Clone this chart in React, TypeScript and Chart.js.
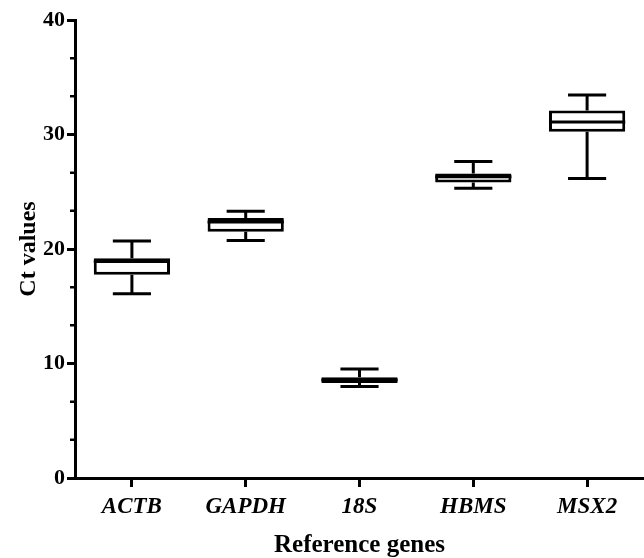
import React, { useEffect, useRef } from "react";
import { Chart, registerables } from "chart.js";

Chart.register(...registerables);

const genes = ["ACTB", "GAPDH", "18S", "HBMS", "MSX2"];
const mins = [16.1, 20.75, 8.0, 25.3, 26.15];
const q1s = [17.75, 21.5, 8.3, 25.8, 30.25];
const medians = [18.9, 22.35, 8.55, 26.3, 31.1];
const q3s = [19.2, 22.7, 8.8, 26.6, 32.1];
const maxs = [20.7, 23.3, 9.53, 27.65, 33.45];
const yMajorTicks = [0, 10, 20, 30, 40];
const yMinorTicks = [3.333, 6.667, 13.333, 16.667, 23.333, 26.667, 33.333, 36.667];

const FONT = "'Liberation Serif', 'Times New Roman', serif";

const boxPlugin = {
  id: "boxWhiskers",
  afterDatasetsDraw(chart: any) {
    const { ctx, scales } = chart;
    const x = scales.x;
    const y = scales.y;
    const meta = chart.getDatasetMeta(0);
    ctx.save();
    ctx.strokeStyle = "#000";
    ctx.lineWidth = 3;
    ctx.lineCap = "butt";
    genes.forEach((_, i) => {
      const bar = meta.data[i];
      const cx = x.getPixelForValue(i);
      const half = bar ? bar.width / 2 : 38;
      const capHalf = half / 2;
      const pMin = y.getPixelForValue(mins[i]);
      const pMax = y.getPixelForValue(maxs[i]);
      const pQ1 = y.getPixelForValue(q1s[i]);
      const pQ3 = y.getPixelForValue(q3s[i]);
      const pMed = y.getPixelForValue(medians[i]);
      ctx.beginPath();
      ctx.moveTo(cx, pQ3);
      ctx.lineTo(cx, pMax);
      ctx.moveTo(cx, pQ1);
      ctx.lineTo(cx, pMin);
      ctx.moveTo(cx - capHalf, pMax);
      ctx.lineTo(cx + capHalf, pMax);
      ctx.moveTo(cx - capHalf, pMin);
      ctx.lineTo(cx + capHalf, pMin);
      ctx.moveTo(cx - half, pMed);
      ctx.lineTo(cx + half, pMed);
      ctx.stroke();
    });
    ctx.lineWidth = 2.5;
    ctx.beginPath();
    yMinorTicks.forEach((v) => {
      const py = y.getPixelForValue(v);
      ctx.moveTo(y.right - 5, py);
      ctx.lineTo(y.right, py);
    });
    ctx.stroke();
    ctx.restore();
  },
};

export default function App() {
  const ref = useRef<HTMLCanvasElement | null>(null);
  useEffect(() => {
    if (!ref.current) return;
    const chart = new Chart(ref.current, {
      type: "bar",
      data: {
        labels: genes,
        datasets: [
          {
            data: genes.map((_, i) => [q1s[i], q3s[i]]) as any,
            backgroundColor: "#ffffff",
            borderColor: "#000000",
            borderWidth: 3,
            borderSkipped: false,
            barPercentage: 0.67,
            categoryPercentage: 1,
          },
        ],
      },
      options: {
        responsive: false,
        animation: false,
        layout: { padding: { top: 20, right: 0, left: 0, bottom: 0 } },
        plugins: { legend: { display: false }, tooltip: { enabled: false } },
        scales: {
          x: {
            offset: true,
            afterFit: (s: any) => {
              s.height = 80;
            },
            grid: {
              display: true,
              offset: false,
              drawOnChartArea: false,
              drawTicks: true,
              tickLength: 9,
              tickWidth: 3,
              tickColor: "#000",
            },
            border: { display: true, color: "#000", width: 3 },
            ticks: {
              color: "#000",
              padding: 6,
              maxRotation: 0,
              font: { family: FONT, size: 23, weight: "bold", style: "italic" },
            },
            title: {
              display: true,
              text: "Reference genes",
              color: "#000",
              padding: { top: 0, bottom: 0 },
              font: { family: FONT, size: 25, weight: "bold", lineHeight: 1 },
            },
          },
          y: {
            min: 0,
            max: 40,
            afterFit: (s: any) => {
              s.width = 75;
            },
            afterBuildTicks: (s: any) => {
              s.ticks = yMajorTicks.map((v) => ({ value: v }));
            },
            grid: {
              display: true,
              drawOnChartArea: false,
              drawTicks: true,
              tickLength: 8,
              tickWidth: 3,
              tickColor: "#000",
            },
            border: { display: true, color: "#000", width: 3 },
            ticks: {
              color: "#000",
              padding: 2,
              font: { family: FONT, size: 22, weight: "bold" },
            },
            title: {
              display: true,
              text: "Ct values",
              color: "#000",
              padding: { top: 14, bottom: 0 },
              font: { family: FONT, size: 24, weight: "bold" },
            },
          },
        },
      },
      plugins: [boxPlugin],
    });
    return () => chart.destroy();
  }, []);
  return (
    <div style={{ position: "fixed", left: 0, top: 0, width: 644, height: 558, background: "#fff" }}>
      <canvas ref={ref} width={644} height={558} style={{ display: "block" }} />
    </div>
  );
}
